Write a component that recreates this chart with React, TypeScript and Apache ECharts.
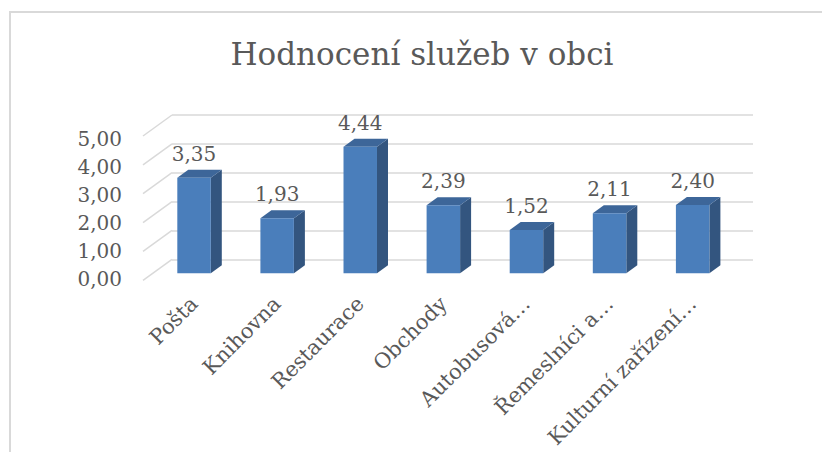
import React, { useEffect, useRef } from "react";
import * as echarts from "echarts";

const categories = ["Pošta", "Knihovna", "Restaurace", "Obchody", "Autobusová…", "Řemeslníci a…", "Kulturní zařízení…"];
const values = [3.35, 1.93, 4.44, 2.39, 1.52, 2.11, 2.4];
const yTicks = [0, 1, 2, 3, 4, 5];
const title = "Hodnocení služeb v obci";

const FONT = "'DejaVu Serif', serif";
const TEXT = "#595959";
const GRID_LINE = "#D9D9D9";
const FRONT = "#4A7EBB";
const SIDE = "#33557F";
const TOP = "#3D6699";
const fmt = (v: number) => Number(v).toFixed(2).replace(".", ",");

export default function App() {
  const ref = useRef<HTMLDivElement>(null);
  useEffect(() => {
    document.body.style.margin = "0";
    const chart = echarts.init(ref.current!, null, { renderer: "svg" });
    const DX = 11, DY = -8; // bar depth
    const WX = 29, WY = 21; // wall depth
    chart.setOption({
      animation: false,
      backgroundColor: "#ffffff",
      graphic: [
        {
          type: "rect",
          silent: true,
          shape: { x: 10, y: 12, width: 830, height: 460 },
          style: { fill: "none", stroke: GRID_LINE, lineWidth: 2 },
        },
        {
          type: "text",
          x: 422,
          y: 54,
          style: { text: title, font: `31px ${FONT}`, fill: TEXT, align: "center", verticalAlign: "middle" },
        },
      ],
      grid: [
        { left: 172, right: 69, top: 115, height: 144.3, outerBoundsMode: "none", containLabel: false },
        { left: 143, width: 29, top: 139, height: 140, outerBoundsMode: "none", containLabel: false },
        { left: 152.5, right: 87.8, top: 130.8, height: 142.5, outerBoundsMode: "none", containLabel: false },
      ],
      xAxis: [
        { gridIndex: 0, type: "value", min: 0, max: 1, show: false },
        { gridIndex: 1, type: "value", min: 0, max: 1, show: false },
        {
          gridIndex: 2,
          type: "category",
          data: categories,
          axisLine: { show: false },
          axisTick: { show: false },
          axisLabel: { interval: 0, rotate: 45, margin: 27, fontSize: 21, fontFamily: FONT, color: TEXT },
        },
      ],
      yAxis: [
        {
          gridIndex: 0,
          type: "value",
          min: 0,
          max: 5,
          interval: 1,
          axisLabel: { show: false },
          axisLine: { show: false },
          axisTick: { show: false },
          splitLine: { lineStyle: { color: GRID_LINE, width: 1.5 } },
        },
        {
          gridIndex: 1,
          type: "value",
          min: 0,
          max: 5,
          interval: 1,
          axisLabel: { margin: 21, fontSize: 20, fontFamily: FONT, color: TEXT, formatter: fmt },
          axisLine: { show: false },
          axisTick: { show: false },
          splitLine: { show: false },
        },
        { gridIndex: 2, type: "value", min: 0, max: 5, show: false },
      ],
      series: [
        {
          type: "custom",
          xAxisIndex: 0,
          yAxisIndex: 0,
          silent: true,
          data: yTicks.map((v) => [0, v]),
          renderItem: (params: any, api: any) => {
            const p = api.coord([0, api.value(1)]);
            return {
              type: "line",
              shape: { x1: p[0], y1: p[1], x2: p[0] - WX, y2: p[1] + WY },
              style: { stroke: GRID_LINE, lineWidth: 1.5 },
            };
          },
        },
        {
          type: "custom",
          xAxisIndex: 2,
          yAxisIndex: 2,
          data: values.map((v, i) => [i, v]),
          renderItem: (params: any, api: any) => {
            const v = api.value(1);
            const top = api.coord([api.value(0), v]);
            const bot = api.coord([api.value(0), 0]);
            const w = api.size([1, 0])[0] * 0.403;
            const l = top[0] - w / 2;
            const r = top[0] + w / 2;
            const t = top[1];
            const b = bot[1];
            return {
              type: "group",
              children: [
                {
                  type: "polygon",
                  shape: { points: [[r, t], [r + DX, t + DY], [r + DX, b + DY], [r, b]] },
                  style: { fill: SIDE },
                },
                {
                  type: "polygon",
                  shape: { points: [[l, t], [l + DX, t + DY], [r + DX, t + DY], [r, t]] },
                  style: { fill: TOP },
                },
                {
                  type: "rect",
                  shape: { x: l, y: t, width: w, height: b - t },
                  style: { fill: FRONT },
                },
                {
                  type: "text",
                  x: top[0],
                  y: t - 24,
                  style: {
                    text: fmt(v),
                    font: `20px ${FONT}`,
                    fill: TEXT,
                    align: "center",
                    verticalAlign: "middle",
                  },
                },
              ],
            };
          },
        },
      ],
    });
    return () => chart.dispose();
  }, []);
  return <div ref={ref} style={{ width: 822, height: 452 }} />;
}
